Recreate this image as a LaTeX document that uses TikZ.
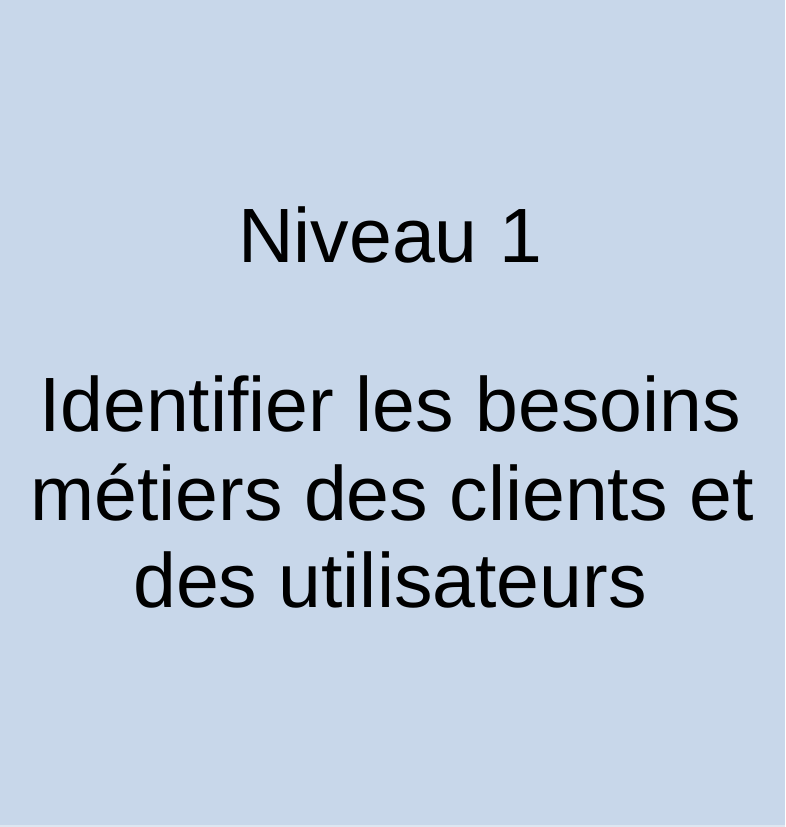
\documentclass[tikz,border=0pt]{standalone}
\usepackage{fontspec}
\setmainfont{Liberation Sans}
\definecolor{boxblue}{HTML}{C8D7EA}
\definecolor{edgeblue}{HTML}{DDE6F1}
\tikzset{
	bigtext/.style={anchor=base, inner sep=0pt, font=\fontsize{77}{88}\selectfont}
}
\begin{document}
\begin{tikzpicture}[x=1pt, y=1pt]
		\useasboundingbox (0, 0) rectangle (785, 827);
		\fill[boxblue] (0, 2) rectangle (785, 827);
		\fill[edgeblue] (0, 0) rectangle (785, 2);

		\node[bigtext] (niveau) at(390, 564){Niveau 1};

		\node[bigtext] (ligneA) at(390, 395){Identifier les besoins};
		\node[bigtext] (ligneB) at(392, 306){métiers des clients et};
		\node[bigtext] (ligneC) at(390, 219){des utilisateurs};
	\end{tikzpicture}
\end{document}
